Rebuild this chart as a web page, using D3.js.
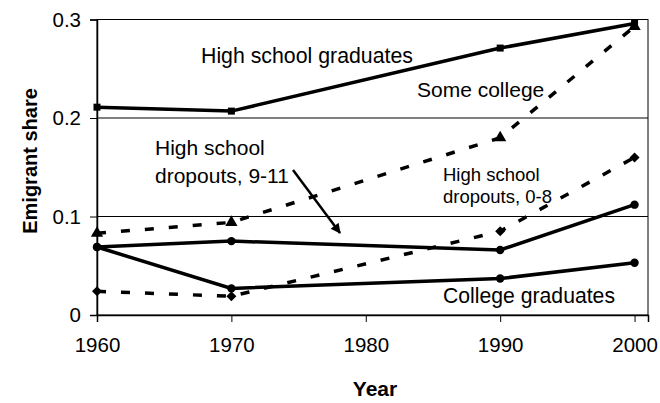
<!DOCTYPE html>
<html>
<head>
<meta charset="utf-8">
<script src="https://cdn.jsdelivr.net/npm/d3@7"></script>
<style>
  body { margin: 0; background: #fff; }
  svg { display: block; font-family: "Liberation Sans", Arial, sans-serif; }
</style>
</head>
<body>
<div id="chart"></div>
<script>
var years = [1960, 1970, 1990, 2000];
var hsGrad = [0.211, 0.207, 0.271, 0.296];
var someCollege = [0.083, 0.094, 0.180, 0.293];
var dropouts08 = [0.024, 0.019, 0.085, 0.160];
var dropouts911 = [0.069, 0.075, 0.066, 0.112];
var collegeGrad = [0.069, 0.027, 0.037, 0.053];
var xTicks = [1960, 1970, 1980, 1990, 2000];
var yTicks = [0, 0.1, 0.2, 0.3];

var W = 660, H = 403;
var plotL = 97, plotR = 648, plotT = 19.5, plotB = 315;

var svg = d3.select("#chart").append("svg")
  .attr("width", W).attr("height", H);

var x = d3.scaleLinear().domain([1960, 2001]).range([plotL, plotR]);
var y = d3.scaleLinear().domain([0, 0.3]).range([plotB, plotT]);

// gridlines at 0.1 and 0.2
svg.append("g").selectAll("line")
  .data(yTicks.filter(function(d) { return d > 0 && d < 0.3; }))
  .enter().append("line")
  .attr("x1", plotL).attr("x2", plotR)
  .attr("y1", function(d) { return y(d); })
  .attr("y2", function(d) { return y(d); })
  .attr("stroke", "#000").attr("stroke-width", 1);

// frame
svg.append("rect")
  .attr("x", plotL).attr("y", plotT)
  .attr("width", plotR - plotL).attr("height", plotB - plotT)
  .attr("fill", "none").attr("stroke", "#000").attr("stroke-width", 1);

// axes
var yAxis = svg.append("g")
  .attr("transform", "translate(" + plotL + ",0)")
  .call(d3.axisLeft(y).tickValues(yTicks).tickSize(7).tickPadding(9)
    .tickFormat(function(d) { return d === 0 ? "0" : d3.format(".1f")(d); }));
var xAxis = svg.append("g")
  .attr("transform", "translate(0," + plotB + ")")
  .call(d3.axisBottom(x).tickValues(xTicks).tickSize(7).tickPadding(15)
    .tickFormat(d3.format("d")));

[yAxis, xAxis].forEach(function(a) {
  a.select(".domain").attr("stroke-width", 1.5);
  a.selectAll(".tick line").attr("stroke-width", 1);
  a.selectAll("text").attr("font-size", 20.5).attr("fill", "#000")
    .attr("font-family", "'Liberation Sans', Arial, sans-serif");
});

// axis titles
svg.append("text")
  .attr("transform", "translate(37,161) rotate(-90)")
  .attr("text-anchor", "middle")
  .attr("font-size", 20).attr("font-weight", "bold")
  .text("Emigrant share");
svg.append("text")
  .attr("x", 375).attr("y", 396)
  .attr("text-anchor", "middle")
  .attr("font-size", 21).attr("font-weight", "bold")
  .text("Year");

// diamonds are drawn as squares turned 45 degrees
var series = [
  { values: dropouts08, dash: "9,15", symbol: d3.symbolSquare, size: 50, rot: 45 },
  { values: someCollege, dash: "9,15", symbol: d3.symbolTriangle, size: 65, rot: 0 },
  { values: collegeGrad, dash: null, symbol: d3.symbolCircle, size: 55, rot: 0 },
  { values: dropouts911, dash: null, symbol: d3.symbolCircle, size: 55, rot: 0 },
  { values: hsGrad, dash: null, symbol: d3.symbolSquare, size: 49, rot: 0 }
];

var line = d3.line()
  .x(function(d) { return x(d[0]); })
  .y(function(d) { return y(d[1]); });

series.forEach(function(s) {
  var pts = years.map(function(yr, i) { return [yr, s.values[i]]; });
  svg.append("path")
    .attr("d", line(pts))
    .attr("fill", "none")
    .attr("stroke", "#000")
    .attr("stroke-width", 3.5)
    .attr("stroke-dasharray", s.dash);
  svg.append("g").selectAll("path")
    .data(pts)
    .enter().append("path")
    .attr("transform", function(d) {
      return "translate(" + x(d[0]) + "," + y(d[1]) + ") rotate(" + s.rot + ")";
    })
    .attr("d", d3.symbol().type(s.symbol).size(s.size))
    .attr("fill", "#000");
});

// arrow
svg.append("defs").append("marker")
  .attr("id", "arrow")
  .attr("viewBox", "0 0 10 10")
  .attr("refX", 9).attr("refY", 5)
  .attr("markerWidth", 4.5).attr("markerHeight", 4)
  .attr("orient", "auto")
  .append("path").attr("d", "M0,0L10,5L0,10z").attr("fill", "#000");
svg.append("line")
  .attr("x1", 293).attr("y1", 170)
  .attr("x2", 340).attr("y2", 233)
  .attr("stroke", "#000").attr("stroke-width", 2.5)
  .attr("marker-end", "url(#arrow)");

// labels
var labels = [
  { text: "High school graduates", x: 201, y: 63, size: 21.3 },
  { text: "Some college", x: 417, y: 97, size: 21 },
  { text: "High school", x: 155, y: 155, size: 21 },
  { text: "dropouts, 9-11", x: 155, y: 183, size: 21 },
  { text: "High school", x: 443, y: 181, size: 18.5 },
  { text: "dropouts, 0-8", x: 443, y: 203, size: 18.5 },
  { text: "College graduates", x: 443, y: 303, size: 21.2 }
];
svg.append("g").selectAll("text")
  .data(labels)
  .enter().append("text")
  .attr("x", function(d) { return d.x; })
  .attr("y", function(d) { return d.y; })
  .attr("font-size", function(d) { return d.size; })
  .attr("fill", "#000")
  .text(function(d) { return d.text; });
</script>
</body>
</html>
